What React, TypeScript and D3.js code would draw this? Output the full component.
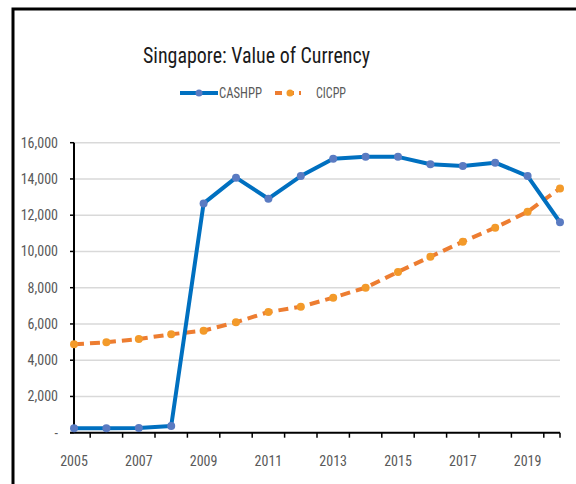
import React from "react";
import * as d3 from "d3";

const years = [2005, 2006, 2007, 2008, 2009, 2010, 2011, 2012, 2013, 2014, 2015, 2016, 2017, 2018, 2019, 2020];
const cashpp = [250, 250, 260, 370, 12650, 14070, 12910, 14160, 15120, 15220, 15220, 14810, 14710, 14900, 14160, 11610];
const cicpp = [4880, 4990, 5170, 5430, 5630, 6090, 6660, 6950, 7450, 8000, 8870, 9710, 10540, 11310, 12190, 13480];
const yTicks = [0, 2000, 4000, 6000, 8000, 10000, 12000, 14000, 16000];
const xLabelYears = [2005, 2007, 2009, 2011, 2013, 2015, 2017, 2019];
const seriesNames = ["CASHPP", "CICPP"];

const W = 576, H = 484;
const left = 74, right = 560, top = 142.7, bottom = 432.7;

export default function App() {
  const x = d3.scaleLinear().domain([2005, 2020]).range([left, right]);
  const y = d3.scaleLinear().domain([0, 16000]).range([bottom, top]);
  const line = d3.line<number>().x((_, i) => x(years[i])).y((d) => y(d));
  const fmt = (v: number) => (v === 0 ? "-" : d3.format(",")(v));
  const tickXs: number[] = [];
  for (let i = 0; i < years.length - 1; i++) tickXs.push((x(years[i]) + x(years[i + 1])) / 2);
  tickXs.push(right);
  const font = "Liberation Sans Narrow, Roboto Condensed, Arial Narrow, sans-serif";
  const blue = "#0070C0";
  const orange = "#ED7D31";
  return (
    <svg width={W} height={H} style={{ position: "absolute", left: 0, top: 0, background: "#fff" }}>
      <rect x={13} y={9} width={700} height={600} fill="#fff" stroke="#000" strokeWidth={3} />
      <text x={256.5} y={63} textAnchor="middle" fontFamily={font} fontSize={22} fill="#1a1a1a" textLength={227} lengthAdjust="spacingAndGlyphs">
        Singapore: Value of Currency
      </text>
      {/* legend */}
      <g>
        <line x1={180} x2={218} y1={93} y2={93} stroke={blue} strokeWidth={4} />
        <circle cx={199} cy={93} r={3.5} fill="#5A7BC2" />
        <text x={219} y={98} fontFamily={font} fontSize={14} fill="#595959" textLength={43} lengthAdjust="spacingAndGlyphs">{seriesNames[0]}</text>
        <line x1={275} x2={301} y1={93} y2={93} stroke={orange} strokeWidth={4} strokeDasharray="7,5" />
        <circle cx={290} cy={93} r={3.5} fill="#F39A2A" />
        <text x={316} y={98} fontFamily={font} fontSize={14} fill="#595959" textLength={30} lengthAdjust="spacingAndGlyphs">{seriesNames[1]}</text>
      </g>
      {/* grid */}
      {yTicks.map((t) => (
        <g key={t}>
          {t > 0 && <line x1={left} x2={right} y1={y(t)} y2={y(t)} stroke="#D9D9D9" strokeWidth={1.5} />}
          <line x1={left - 4} x2={left} y1={y(t)} y2={y(t)} stroke="#000" strokeWidth={1.5} />
          <text x={58} y={y(t) + 5} textAnchor="end" fontFamily={font} fontSize={14} fill="#595959">{fmt(t)}</text>
        </g>
      ))}
      {/* axes */}
      <line x1={left} x2={left} y1={top} y2={bottom} stroke="#000" strokeWidth={2} />
      <line x1={left - 4} x2={right} y1={bottom} y2={bottom} stroke="#000" strokeWidth={2} />
      {tickXs.map((tx, i) => (
        <line key={i} x1={tx} x2={tx} y1={bottom} y2={bottom + 5} stroke="#000" strokeWidth={1.5} />
      ))}
      {xLabelYears.map((yr) => (
        <text key={yr} x={x(yr)} y={466} textAnchor="middle" fontFamily={font} fontSize={14} fill="#595959">{yr}</text>
      ))}
      {/* series */}
      <path d={line(cicpp) || ""} fill="none" stroke={orange} strokeWidth={4} strokeDasharray="10,6" />
      {cicpp.map((v, i) => (
        <circle key={i} cx={x(years[i])} cy={y(v)} r={4} fill="#F39A2A" />
      ))}
      <path d={line(cashpp) || ""} fill="none" stroke={blue} strokeWidth={4} strokeLinejoin="round" />
      {cashpp.map((v, i) => (
        <circle key={i} cx={x(years[i])} cy={y(v)} r={4} fill="#5A7BC2" />
      ))}
    </svg>
  );
}
